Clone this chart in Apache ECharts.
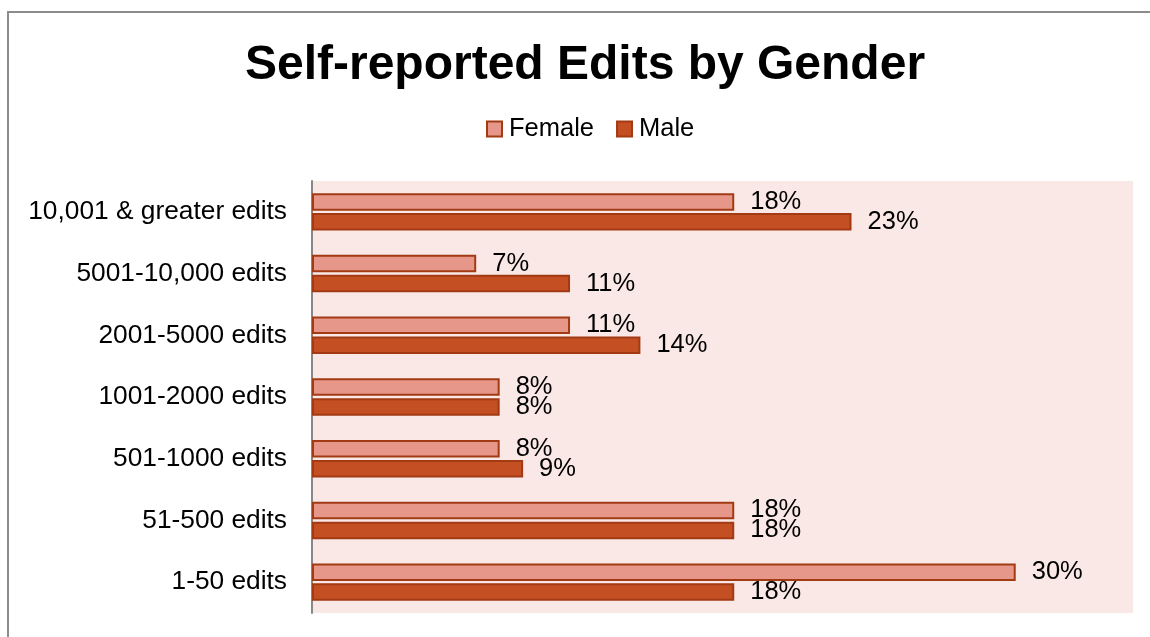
<!DOCTYPE html>
<html>
<head>
<meta charset="utf-8">
<script src="https://cdn.jsdelivr.net/npm/echarts@6/dist/echarts.min.js"></script>
<style>
html,body{margin:0;padding:0;background:#fff;}
#chart{width:1150px;height:637px;}
</style>
</head>
<body>
<div id="chart"></div>
<script>
const categories = ["10,001 & greater edits","5001-10,000 edits","2001-5000 edits","1001-2000 edits","501-1000 edits","51-500 edits","1-50 edits"];
const female = [18, 7, 11, 8, 8, 18, 30];
const male = [23, 11, 14, 8, 9, 18, 18];
const seriesNames = ["Female", "Male"];

const FONT = "'Liberation Sans', Arial, sans-serif";
const chart = echarts.init(document.getElementById('chart'), null, {renderer: 'canvas'});
const labelCfg = {
  show: true, position: 'right', distance: 16,
  formatter: '{c}%', color: '#000', fontSize: 25.5, fontFamily: FONT
};
chart.setOption({
  animation: false,
  backgroundColor: '#fff',
  graphic: [{
    type: 'rect', shape: {x: 8, y: 12, width: 1300, height: 800},
    style: {fill: 'none', stroke: '#8c8c8c', lineWidth: 2}, z: -1
  }],
  title: {
    text: 'Self-reported Edits by Gender',
    left: 580, textAlign: 'center', top: 37,
    textStyle: {fontFamily: FONT, fontWeight: 'bold', fontSize: 48, color: '#000'}
  },
  legend: {
    data: seriesNames,
    left: 486, top: 116, padding: 0,
    itemWidth: 15, itemHeight: 15, itemGap: 22,
    icon: 'rect',
    textStyle: {fontFamily: FONT, fontSize: 25.5, color: '#000', padding: [0,0,0,2]}
  },
  grid: {
    left: 312, right: 17, top: 181, bottom: 24,
    show: true, backgroundColor: '#F9E8E6', borderWidth: 0, containLabel: false
  },
  xAxis: {
    type: 'value', min: 0, max: 35, show: false
  },
  yAxis: {
    type: 'category', data: categories, inverse: true,
    axisLine: {show: true, lineStyle: {color: '#888', width: 2}},
    axisTick: {show: false},
    axisLabel: {fontFamily: FONT, fontSize: 26.3, color: '#000', margin: 25}
  },
  series: [{
    name: seriesNames[0], type: 'bar', data: female,
    barWidth: 17.5, barGap: '14%',
    itemStyle: {color: '#E6978A', borderColor: '#A23A14', borderWidth: 2},
    label: labelCfg
  }, {
    name: seriesNames[1], type: 'bar', data: male,
    barWidth: 17.5,
    itemStyle: {color: '#C44F22', borderColor: '#A23A14', borderWidth: 2},
    label: labelCfg
  }]
});
</script>
</body>
</html>
